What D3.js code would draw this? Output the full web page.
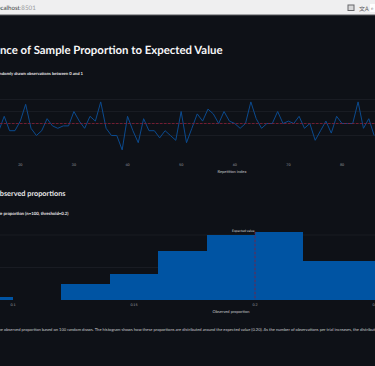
<!DOCTYPE html>
<html>
<head>
<meta charset="utf-8">
<script src="https://cdn.jsdelivr.net/npm/d3@7"></script>
<style>
  html, body { margin: 0; padding: 0; background: #0e1117; overflow: hidden; }
  svg { display: block; font-family: Lato, "Noto Sans", sans-serif; text-rendering: geometricPrecision; }
  .tick-label { fill: #9a9ca0; font-size: 3.6px; }
  .axis-title { fill: #c4c6c9; font-size: 4px; }
</style>
</head>
<body>
<div id="chart"></div>
<script>
// repetition index of the first value that shows in the window
const firstIndex = 16;
const proportions = [
  0.17, 0.23, 0.17, 0.17, 0.21, 0.28, 0.18, 0.15, 0.17, 0.22,
  0.19, 0.18, 0.19, 0.19, 0.25, 0.21, 0.18, 0.23, 0.21, 0.29,
  0.18, 0.15, 0.15, 0.09, 0.23, 0.17, 0.12, 0.22, 0.17, 0.17,
  0.14, 0.17, 0.15, 0.13, 0.25, 0.12, 0.18, 0.24, 0.21, 0.26,
  0.24, 0.20, 0.25, 0.21, 0.20, 0.18, 0.20, 0.29, 0.22, 0.18,
  0.20, 0.20, 0.25, 0.20, 0.21, 0.20, 0.23, 0.18, 0.20, 0.13,
  0.17, 0.21, 0.16, 0.23, 0.20, 0.20, 0.20, 0.29, 0.18, 0.22,
  0.15
];
const lineTicksX = [20, 30, 40, 50, 60, 70, 80];
const lineTicksY = [0.15, 0.2, 0.25, 0.3];

const binStarts = [0.08, 0.10, 0.12, 0.14, 0.16, 0.18, 0.20, 0.22, 0.24];
const binCounts = [1, 0, 5, 8, 15, 20, 21, 12, 12];
const binWidth = 0.02;
const histTicksX = [0.1, 0.15, 0.2, 0.25];
const histTicksY = [10, 20];

const expectedValue = 0.2;

const width = 375, height = 366;
const bg = '#0e1117', grid = '#1d2027', blue = '#0054a3', lineBlue = '#0b4a8e', red = '#8c1d35';

const svg = d3.select('#chart').append('svg')
    .attr('width', width)
    .attr('height', height);

svg.append('rect').attr('width', width).attr('height', height).attr('fill', bg);

// browser bar, the page was cropped on both sides
svg.append('rect').attr('width', width).attr('height', 15).attr('fill', '#efeff0');
svg.append('rect').attr('y', 14.5).attr('width', width).attr('height', 1).attr('fill', '#55575a');
const url = svg.append('text').attr('x', -4.5).attr('y', 10).attr('font-size', 6.2);
url.append('tspan').attr('fill', '#3c3d40').text('localhost');
url.append('tspan').attr('fill', '#9b9c9f').text(':8501');
svg.append('rect').attr('x', 348).attr('y', 5).attr('width', 6).attr('height', 5.5)
    .attr('fill', '#d8d8d9').attr('stroke', '#66676a');
svg.append('text').attr('x', 359).attr('y', 10.5).attr('font-size', 6).attr('fill', '#5c5d60')
    .attr('font-family', '"Noto Sans CJK SC"').text('文A');
svg.append('rect').attr('x', 370).attr('y', 4).attr('width', 8).attr('height', 8).attr('fill', '#ffffff');
svg.append('text').attr('x', 371).attr('y', 10).attr('font-size', 4.5).attr('fill', '#8a8b8e').text('e');

// page headings, right-aligned because their start is cropped
function pageText(x, y, size, weight, fill, anchor, str) {
    return svg.append('text')
        .attr('x', x).attr('y', y)
        .attr('font-size', size).attr('font-weight', weight)
        .attr('fill', fill).attr('text-anchor', anchor)
        .text(str);
}
pageText(222.5, 54, 11.4, 700, '#f6f6f7', 'end', 'Convergence of Sample Proportion to Expected Value');
pageText(83, 74.5, 4.2, 700, '#e6e6e8', 'end', 'randomly drawn observations between 0 and 1');
pageText(65.5, 196, 7.3, 700, '#e6e6e8', 'end', 'observed proportions');
pageText(68.5, 215, 4.3, 700, '#e6e6e8', 'end', 'Sample proportion (n=100, threshold=0.2)');
pageText(-3, 330.5, 4.1, 400, '#c4c6c9', 'start',
    'the observed proportion based on 100 random draws. The histogram shows how these proportions are distributed around the expected value (0.20). As the number of observations per trial increases, the distribution');

// Line chart
const lineX = d3.scaleLinear().domain([20, 80]).range([20.3, 342]);
const lineY = d3.scaleLinear().domain([0.15, 0.3]).range([135.5, 99.5]);

svg.append('g').selectAll('line')
    .data(lineTicksY)
    .join('line')
    .attr('x1', 0).attr('x2', width)
    .attr('y1', d => lineY(d)).attr('y2', d => lineY(d))
    .attr('stroke', grid).attr('stroke-width', 0.8);

svg.append('path')
    .datum(proportions)
    .attr('fill', 'none')
    .attr('stroke', lineBlue)
    .attr('stroke-width', 1)
    .attr('d', d3.line()
        .x((d, i) => lineX(firstIndex + i))
        .y(d => lineY(d)));

svg.append('line')
    .attr('x1', 0).attr('x2', width)
    .attr('y1', lineY(expectedValue)).attr('y2', lineY(expectedValue))
    .attr('stroke', red).attr('stroke-width', 0.8).attr('stroke-dasharray', '2.5,1.5');

svg.append('g').selectAll('text')
    .data(lineTicksX)
    .join('text')
    .attr('class', 'tick-label')
    .attr('x', d => lineX(d)).attr('y', 165.5)
    .attr('text-anchor', 'middle')
    .text(d => d);

svg.append('text').attr('class', 'axis-title')
    .attr('x', 232).attr('y', 172.5).attr('text-anchor', 'middle')
    .text('Repetition index');

// Histogram
const histX = d3.scaleLinear().domain([0.1, 0.25]).range([13, 376]);
const histY = d3.scaleLinear().domain([0, 20]).range([300, 235]);
const bins = binStarts.map((start, i) => ({ start, count: binCounts[i] }));

svg.append('g').selectAll('line')
    .data(histTicksY)
    .join('line')
    .attr('x1', 0).attr('x2', width)
    .attr('y1', d => histY(d)).attr('y2', d => histY(d))
    .attr('stroke', grid).attr('stroke-width', 0.8);

svg.append('g').selectAll('rect')
    .data(bins)
    .join('rect')
    .attr('x', d => histX(d.start))
    .attr('y', d => histY(d.count))
    .attr('width', d => histX(d.start + binWidth) - histX(d.start))
    .attr('height', d => histY(0) - histY(d.count))
    .attr('fill', blue)
    .attr('shape-rendering', 'crispEdges');

svg.append('line')
    .attr('x1', histX(expectedValue)).attr('x2', histX(expectedValue))
    .attr('y1', histY(21)).attr('y2', histY(0))
    .attr('stroke', red).attr('stroke-width', 0.8).attr('stroke-dasharray', '2.5,1.5');

svg.append('text')
    .attr('x', histX(expectedValue) - 0.5).attr('y', 232)
    .attr('text-anchor', 'end')
    .attr('fill', '#d5d6d8').attr('font-size', 3.4)
    .text('Expected value');

svg.append('g').selectAll('text')
    .data(histTicksX)
    .join('text')
    .attr('class', 'tick-label')
    .attr('x', d => histX(d)).attr('y', 306)
    .attr('text-anchor', 'middle')
    .text(d => d);

svg.append('text').attr('class', 'axis-title')
    .attr('x', 231).attr('y', 313).attr('text-anchor', 'middle')
    .text('Observed proportion');
</script>
</body>
</html>
